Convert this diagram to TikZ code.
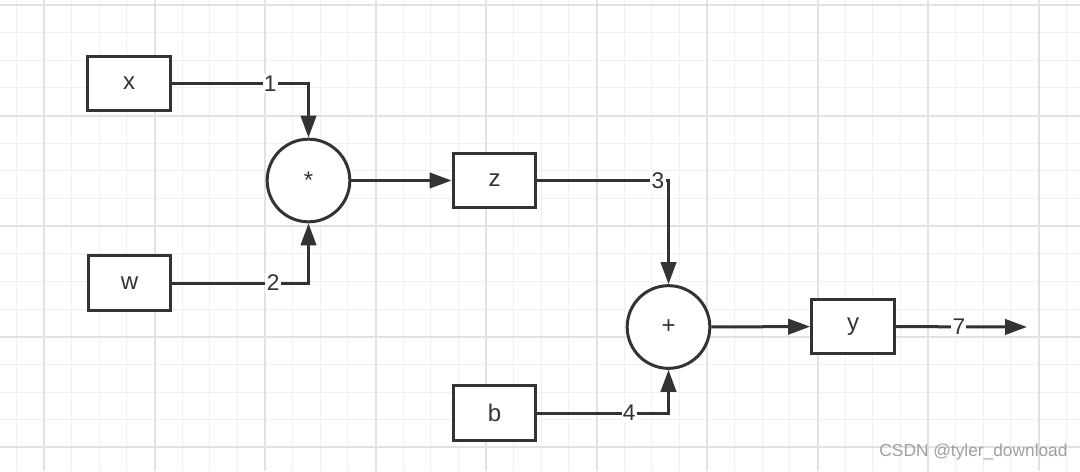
\documentclass[tikz,border=0pt]{standalone}
\usepackage{fontspec}
\setmainfont{Liberation Sans}
\usetikzlibrary{arrows.meta}
\definecolor{ink}{HTML}{333333}
\definecolor{gridminor}{HTML}{F0F0F0}
\definecolor{gridmajor}{HTML}{E2E2E2}
\definecolor{markgray}{HTML}{A0A0A0}
\begin{document}
\begin{tikzpicture}[x=0.75pt, y=-0.75pt]
	\tikzstyle{block} = [rectangle, minimum width=62pt, minimum height=41pt, inner sep=0pt, draw=ink, line width=2.25pt, fill=white, text=ink, font=\fontsize{18}{20}\selectfont]
	\tikzstyle{op}    = [circle, minimum size=62pt, inner sep=0pt, draw=ink, line width=2.25pt, fill=white, text=ink, font=\fontsize{18}{20}\selectfont]
	\tikzstyle{num}   = [fill=white, inner sep=1pt, text=ink, font=\fontsize{17}{19}\selectfont]
	\tikzstyle{wire}  = [draw=ink, line width=2.25pt, -{Triangle[length=16.5pt, width=11.5pt]}]

	\useasboundingbox (0,0) rectangle (1080,471);
	\fill[white] (0,0) rectangle (1080,471);

	% grid
	\foreach \i in {-1,...,38}
		\draw[gridminor, line width=0.75pt] ({44+27.625*\i},0) -- ({44+27.625*\i},471);
	\foreach \i in {0,...,17}
		\draw[gridminor, line width=0.75pt] (0,{5+27.65*\i}) -- (1080,{5+27.65*\i});
	\foreach \i in {0,...,9}
		\draw[gridmajor, line width=1.5pt] ({44+110.5*\i},0) -- ({44+110.5*\i},471);
	\foreach \i in {0,...,4}
		\draw[gridmajor, line width=1.5pt] (0,{5+110.6*\i}) -- (1080,{5+110.6*\i});

	\foreach \name/\x/\y in {x/129/83.5, w/129.5/283, z/494.5/180.5, b/494.5/413, y/853/326.5}
		\node[block] (\name) at (\x, \y) {\name};
	\node[op] (mul) at (308.5, 180.5) {*};
	\node[op] (add) at (668.5, 327) {+};
	\coordinate (out) at (1027, 327);

	\foreach \from/\to/\lbl/\p in {x/mul/1/0.36, w/mul/2/0.37, z/add/3/0.46, b/add/4/0.35}
		\path[wire] (\from) -| node[num, pos=\p] {\lbl} (\to);

	\foreach \from/\to in {mul/z, add/y}
		\path[wire] (\from) -- (\to);
	\path[wire] (y) -- node[num, pos=0.48] {7} (out);

	\node[text=markgray, font=\fontsize{13}{15}\selectfont] (mark) at (973.5, 452) {CSDN @tyler\_download};
\end{tikzpicture}
\end{document}
